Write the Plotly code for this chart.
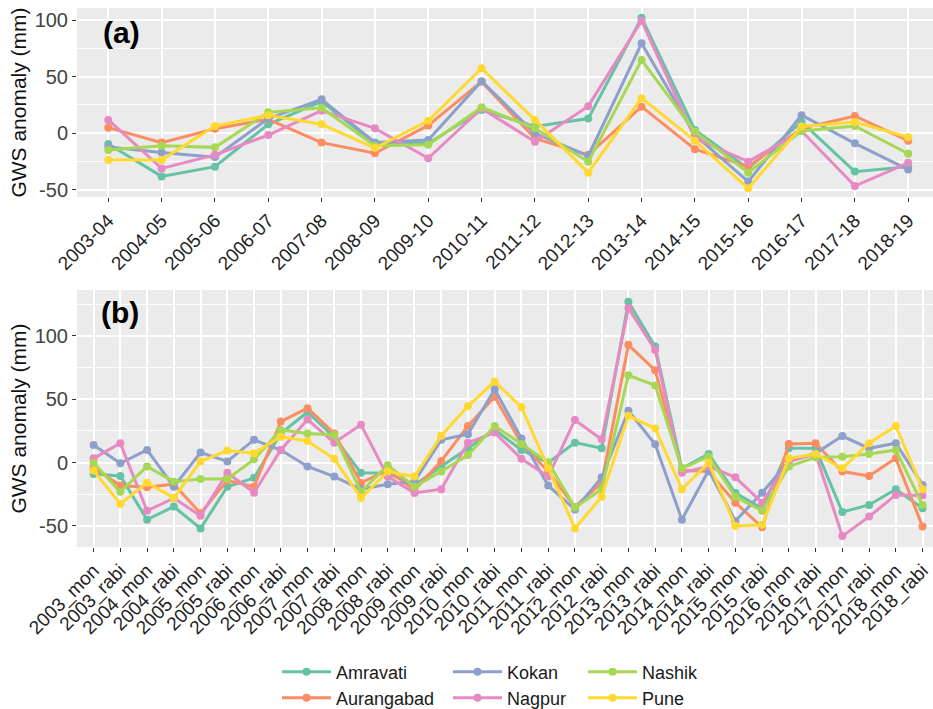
import plotly.graph_objects as go

# ---- data -------------------------------------------------------------
districts = ["Amravati", "Aurangabad", "Kokan", "Nagpur", "Nashik", "Pune"]
colors = ["#66C2A5", "#FC8D62", "#8DA0CB", "#E78AC3", "#A6D854", "#FFD92F"]

# panel (a): water years
years_a = ["2003-04", "2004-05", "2005-06", "2006-07", "2007-08", "2008-09",
           "2009-10", "2010-11", "2011-12", "2012-13", "2013-14", "2014-15",
           "2015-16", "2016-17", "2017-18", "2018-19"]

amravati_a = [-9.4, -38, -29.4, 8, 28, -9, -9, 20.6, 6, 13, 102, 3, -31, 10, -33.8, -29.4]
aurangabad_a = [5, -8.2, 4, 12.4, -8.2, -17.6, 7, 45.6, -4.4, -19, 23.5, -14, -29.4, 4.4, 15.3, -6.5]
kokan_a = [-12, -17, -21, 13, 30, -8, -6, 46, 0, -20, 79.4, -1.5, -42.6, 16, -8.8, -32]
nagpur_a = [11.8, -31, -19, -1.5, 20, 4.4, -22, 22, -7.4, 24, 99.4, -4.4, -25, 2, -46.5, -26]
nashik_a = [-14.7, -11, -12.4, 18.5, 22.6, -11, -10, 23, 4.4, -25, 64.7, 1.5, -34.7, 2, 6.5, -18]
pune_a = [-23.5, -23.5, 6.5, 16, 8, -13, 11, 57.4, 11.8, -34.7, 31, -6.5, -48.5, 6, 10, -3.5]

# panel (b): monsoon / rabi seasons
seasons_b = ["2003_mon", "2003_rabi", "2004_mon", "2004_rabi", "2005_mon", "2005_rabi",
             "2006_mon", "2006_rabi", "2007_mon", "2007_rabi", "2008_mon", "2008_rabi",
             "2009_mon", "2009_rabi", "2010_mon", "2010_rabi", "2011_mon", "2011_rabi",
             "2012_mon", "2012_rabi", "2013_mon", "2013_rabi", "2014_mon", "2014_rabi",
             "2015_mon", "2015_rabi", "2016_mon", "2016_rabi", "2017_mon", "2017_rabi",
             "2018_mon", "2018_rabi"]

amravati_b = [-9, -10.5, -45, -34.7, -52, -19, -12, 23, 40, 20, -8, -8.4, -17.6, -3, 11, 26,
              10, 0, 15.8, 11.3, 127, 91.6, -4.5, 6.8, -24, -36, 11.3, 11.3, -39, -33.4, -21, -36]
aurangabad_b = [-4, -18, -19.5, -17, -40, -14, -19, 32.4, 43, 23, -16, -6, -21.6, 1.3, 29, 52,
                15, -7, -35, -16, 93, 73, -6, -7, -31.6, -51, 14.7, 15.3, -7, -10.5, 3.4, -50.5]
kokan_b = [14, -0.5, 10, -19, 8, 1, 18, 10, -3, -11, -21, -17, -15, 18, 22.4, 58,
           19, -18, -37, -11.6, 41, 14.5, -45, -6, -46, -23.7, 1, 7.4, 21, 11.3, 15.3, -17.6]
nagpur_b = [3.4, 15.3, -38, -28, -42, -8, -23.7, 10, 34, 15.8, 30, -11, -24, -21, 15.8, 23.7,
            3, -11, 33.7, 18.4, 122, 89, -8, -3, -11.6, -31.6, 1, 7, -58, -42.6, -25.5, -26]
nashik_b = [0, -23, -3, -15, -13, -13, 2.6, 25.8, 23, 21.8, -23, -2, -19, -7, 6, 29,
            14.7, 0.3, -35.5, -21, 69, 61, -4.5, 4.7, -27, -38, -3, 4.2, 4.7, 6.8, 10, -33.4]
pune_b = [-6.3, -32.6, -15.8, -28, 1, 9.5, 7.4, 20.5, 17, 3, -28, -7, -11, 21.3, 44.7, 64,
          43.7, -4.5, -52, -27, 37, 27, -21, 0, -50, -49, 3.4, 6.8, -4.5, 15.3, 29, -21]

series_a = [amravati_a, aurangabad_a, kokan_a, nagpur_a, nashik_a, pune_a]
series_b = [amravati_b, aurangabad_b, kokan_b, nagpur_b, nashik_b, pune_b]

y_tickvals = [-50, 0, 50, 100]
y_ticktext = ["-50", "0", "50", "100"]

# ---- styling ----------------------------------------------------------
FONT = "Liberation Sans, Arial, sans-serif"
W, H = 933, 709
PANEL_BG = "#EBEBEB"
TICK_COL = "#444444"

# legend grid: 3 columns x 2 rows, filled column-wise
legend_slots = {
    "Amravati": (0, 0), "Aurangabad": (0, 1),
    "Kokan": (1, 0), "Nagpur": (1, 1),
    "Nashik": (2, 0), "Pune": (2, 1),
}
legend_text_x = [336, 507, 642]   # px where the label text starts
legend_row_y = [672, 698]          # px centre of each row
ITEM_W = 49

fig = go.Figure()

for i, name in enumerate(districts):
    lg = "legend" if i == 0 else f"legend{i + 1}"
    fig.add_trace(go.Scatter(
        x=years_a, y=series_a[i], name=name, mode="lines+markers",
        line=dict(color=colors[i], width=3), marker=dict(color=colors[i], size=8),
        xaxis="x", yaxis="y", legend=lg, showlegend=True,
    ))
for i, name in enumerate(districts):
    fig.add_trace(go.Scatter(
        x=seasons_b, y=series_b[i], name=name, mode="lines+markers",
        line=dict(color=colors[i], width=3), marker=dict(color=colors[i], size=8),
        xaxis="x2", yaxis="y2", showlegend=False,
    ))

ML = 77
PW = W - ML  # plot width in px (margins: left only)

legends = {}
for i, name in enumerate(districts):
    col, row = legend_slots[name]
    key = "legend" if i == 0 else f"legend{i + 1}"
    legends[key] = dict(
        xref="paper", yref="paper",
        x=(legend_text_x[col] - ITEM_W - 10 - ML) / PW, xanchor="left",
        y=1 - legend_row_y[row] / H, yanchor="middle",
        orientation="h", itemwidth=ITEM_W,
        bgcolor="rgba(0,0,0,0)", borderwidth=0,
        font=dict(family=FONT, size=18, color="#1a1a1a"),
    )


def yaxis_common(rng, dom):
    return dict(
        domain=dom, range=rng, tickmode="array", tickvals=y_tickvals, ticktext=y_ticktext,
        ticks="outside", ticklen=4, tickwidth=1, tickcolor="#333333",
        tickfont=dict(family=FONT, size=20, color=TICK_COL),
        showgrid=True, gridcolor="white", gridwidth=2,
        minor=dict(tickmode="linear", tick0=-25, dtick=50, showgrid=True,
                   gridcolor="white", gridwidth=1, ticks=""),
        zeroline=False, showline=False, automargin=False,
        title=dict(text="GWS anomaly (mm)", font=dict(family=FONT, size=21, color="#111111"),
                   standoff=2),
    )


def xaxis_common(cats, rng, anchor):
    return dict(
        type="category", categoryorder="array", categoryarray=cats, range=rng,
        tickmode="array", tickvals=cats, ticktext=cats, tickangle=-45,
        ticks="outside", ticklen=4, tickwidth=1, tickcolor="#333333",
        tickfont=dict(family=FONT, size=19, color="#222222"),
        showgrid=True, gridcolor="white", gridwidth=2,
        zeroline=False, showline=False, automargin=False, anchor=anchor,
    )


fig.update_layout(
    width=W, height=H,
    margin=dict(l=ML, r=0, t=0, b=0, autoexpand=False),
    paper_bgcolor="white", plot_bgcolor=PANEL_BG,
    font=dict(family=FONT),
    xaxis=xaxis_common(years_a, [-0.587, 15.465], "y"),
    yaxis=yaxis_common([-56.2, 110.6], [1 - 197 / H, 1 - 8 / H]),
    xaxis2=xaxis_common(seasons_b, [-0.62, 31.39], "y2"),
    yaxis2=yaxis_common([-66.6, 136.3], [1 - 547 / H, 1 - 290 / H]),
    **legends,
)

fig.add_annotation(text="<b>(a)</b>", xref="x domain", yref="y domain",
                   x=(121 - ML) / PW, y=0.868, xanchor="center", yanchor="middle",
                   showarrow=False, font=dict(family=FONT, size=30, color="black"))
fig.add_annotation(text="<b>(b)</b>", xref="x2 domain", yref="y2 domain",
                   x=(120 - ML) / PW, y=0.914, xanchor="center", yanchor="middle",
                   showarrow=False, font=dict(family=FONT, size=30, color="black"))

fig.write_html("out.html")
